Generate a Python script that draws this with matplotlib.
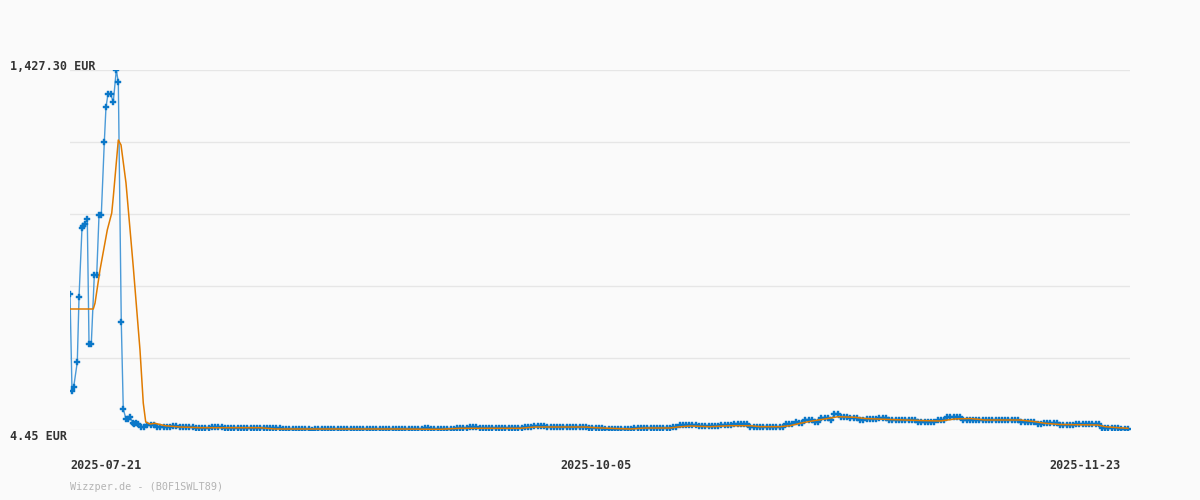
import numpy as np
import matplotlib
matplotlib.use('Agg')
import matplotlib.pyplot as plt

# price data (EUR)
# x is a trading-session position; the axis is not linear in calendar time

# first sessions are sampled irregularly (position, price)
early_pos = [0.0, 0.31, 0.57, 1.13, 1.40, 1.86, 2.06, 2.28, 2.68, 2.95, 3.30,
             3.77, 4.14, 4.50, 4.85, 5.32, 5.58, 5.89, 6.31, 6.71, 7.18, 7.49,
             7.95, 8.26, 8.68, 8.99, 9.30, 9.72, 9.92, 10.23, 10.54]
early_price = [542, 160, 174, 273, 530, 803, 811, 819, 838, 344, 344,
               617, 617, 854, 854, 1143, 1281, 1332, 1332, 1301, 1427.3, 1380,
               431, 87.5, 48, 48, 56, 32, 28, 32, 28]

# after that one point every half unit, starting at position 11
price = [
    18, 18, 24, 24, 24, 18, 18, 18, 18, 18, 20, 20, 15, 15, 15, 15, 15,
    11, 11, 11, 11, 11, 16, 16, 16, 16,
    11, 11, 11, 11, 11, 11, 11, 11, 11, 11, 11, 11, 11, 11,
    13.5, 13.5, 13.5, 13.5, 7, 7, 7, 7, 7, 7, 7, 7, 7, 4.45,
    8.5, 8.5, 8.5, 8.5, 8.5, 8.5, 8.5, 8.5, 8.5, 8.5, 8.5, 8.5, 8.5, 8.5, 8.5, 8.5, 8.5,
    8.5, 8.5, 8.5, 8.5, 8.5, 8.5, 8.5, 8.5, 8.5, 8.5, 8.5, 8.5, 8.5, 8.5, 8.5, 8.5, 8.5,
    13.5, 13.5, 7, 7, 7, 7, 7, 7, 7, 7, 11, 11, 11, 11, 16, 16, 16,
    11, 11, 11, 11, 11, 11, 11, 11, 11, 11, 11, 11, 11, 11,
    15, 15, 15, 20, 20, 20, 20,
    16, 16, 16, 16, 16, 16, 16, 16, 16, 16, 16, 16, 16,
    13.5, 13.5, 13.5, 13.5, 13.5, 8.5, 8.5, 8.5, 8.5, 8.5, 8.5, 8.5, 8.5, 8.5,
    13.5, 13.5, 13.5, 13.5, 13.5, 13.5, 13.5, 13.5, 13.5, 13.5, 13.5, 13.5,
    16, 16, 24, 24, 24, 24, 24, 24, 19, 19, 19, 19, 19, 19, 19,
    24, 24, 24, 24, 28, 28, 28, 28, 28,
    16, 16, 16, 16, 16, 16, 16, 16, 16, 16, 16,
    28, 28, 28, 37, 31, 31, 44, 44, 44, 37, 37, 51, 51, 51, 44,
    66, 66, 54, 54, 54, 51, 51, 51, 44, 44, 48, 48, 48, 48, 51, 51, 51,
    44, 44, 44, 44, 44, 44, 44, 44, 44, 35, 35, 35, 35, 35, 35, 44, 44, 44,
    55, 55, 55, 55, 55,
    44, 44, 44, 44, 44, 44, 44, 44, 44, 44, 44, 44, 44, 44, 44, 44, 44, 44,
    35, 35, 35, 35, 35, 27, 27, 31, 31, 31, 31, 31, 24, 24, 24, 24, 24,
    28, 28, 28, 28, 28, 28, 28, 28, 13.5, 13.5, 13.5, 13.5, 13.5, 13.5,
    8.5, 8.5, 8.5,
]

# moving average line (position, value)
avg_pos = [0.0, 3.61, 3.88, 4.65, 5.78, 6.47, 6.71, 7.49, 7.91, 8.68, 9.81,
           10.85, 11.36, 11.74, 12.40, 13.18, 14.73, 17.05, 20.16, 29.46, 31.78,
           51.16, 57.36, 60.47, 69.77, 72.09, 79.84, 81.40, 83.72, 86.82, 89.15,
           93.02, 94.26, 96.12, 99.22, 102.33, 105.43, 106.98, 110.08, 111.63,
           113.18, 115.04, 117.05, 119.07, 121.71, 123.26, 127.13, 131.78, 134.88,
           137.21, 139.53, 141.86, 147.29, 149.61, 151.16, 153.49, 159.38, 160.47,
           162.48, 164.03]
avg_price = [482.7, 482.7, 506, 637, 795, 862, 925, 1150.6, 1131, 981, 649,
             321, 111, 36, 28.2, 30.9, 21.4, 16.3, 13.5, 13.5, 8.4,
             8.4, 7.2, 11.2, 11.2, 16.3, 16.3, 13.5, 11.2, 8.4, 12.4,
             12.4, 16.3, 20.3, 17.5, 21.4, 21.4, 17.5, 17.5, 21.4,
             30.9, 40.0, 48.0, 57.0, 54.6, 49.9, 45.9, 42.0, 40.0,
             48.0, 49.9, 44.0, 44.0, 37.3, 30.9, 26.2, 24.2, 17.5,
             13.5, 11.2]

y_min = 4.45
y_max = 1427.30
tick_pos = [0, 76, 151.9]
tick_dates = ['2025-07-21', '2025-10-05', '2025-11-23']

reg_pos = 11 + 0.5 * np.arange(len(price))
x_all = list(early_pos) + list(reg_pos)
p_all = list(early_price) + list(price)

fig = plt.figure(figsize=(12, 5), dpi=100)
fig.patch.set_facecolor('#fafafa')
ax = fig.add_axes([70 / 1200, 70 / 500, 1060 / 1200, 360 / 500])
ax.set_facecolor('#fafafa')

ax.plot(x_all, p_all, color='#4a9ad8', linewidth=1.0, marker='P', markersize=4.3,
        markerfacecolor='#0a77c8', markeredgecolor='#0a77c8', markeredgewidth=0.3, zorder=3)
ax.plot(avg_pos, avg_price, color='#e07b00', linewidth=1.1, zorder=4)

ax.set_ylim(y_min, y_max)
ax.set_xlim(0, 164.34)
ax.set_yticks(np.linspace(y_min, y_max, 6))
ax.yaxis.grid(True, color='#e6e6e6', linewidth=1)
ax.set_axisbelow(True)
ax.tick_params(axis='y', length=0, labelleft=False)
for s in ax.spines.values():
    s.set_visible(False)

ax.set_xticks(tick_pos)
ax.set_xticklabels(tick_dates, fontfamily='DejaVu Sans Mono', fontweight='bold',
                   fontsize=8.5, color='#333333', ha='left')
ax.tick_params(axis='x', length=0, pad=21)

fig.text(10 / 1200, 1 - 67 / 500, '1,427.30 EUR', fontfamily='DejaVu Sans Mono',
         fontweight='bold', fontsize=8.5, color='#333333', ha='left', va='center')
fig.text(10 / 1200, 1 - 437 / 500, '4.45 EUR', fontfamily='DejaVu Sans Mono',
         fontweight='bold', fontsize=8.5, color='#333333', ha='left', va='center')
fig.text(70 / 1200, 1 - 487 / 500, 'Wizzper.de - (B0F1SWLT89)', fontfamily='DejaVu Sans Mono',
         fontsize=7.3, color='#b4b4b4', ha='left', va='center')

fig.savefig('out.png', dpi=100, facecolor=fig.get_facecolor())
